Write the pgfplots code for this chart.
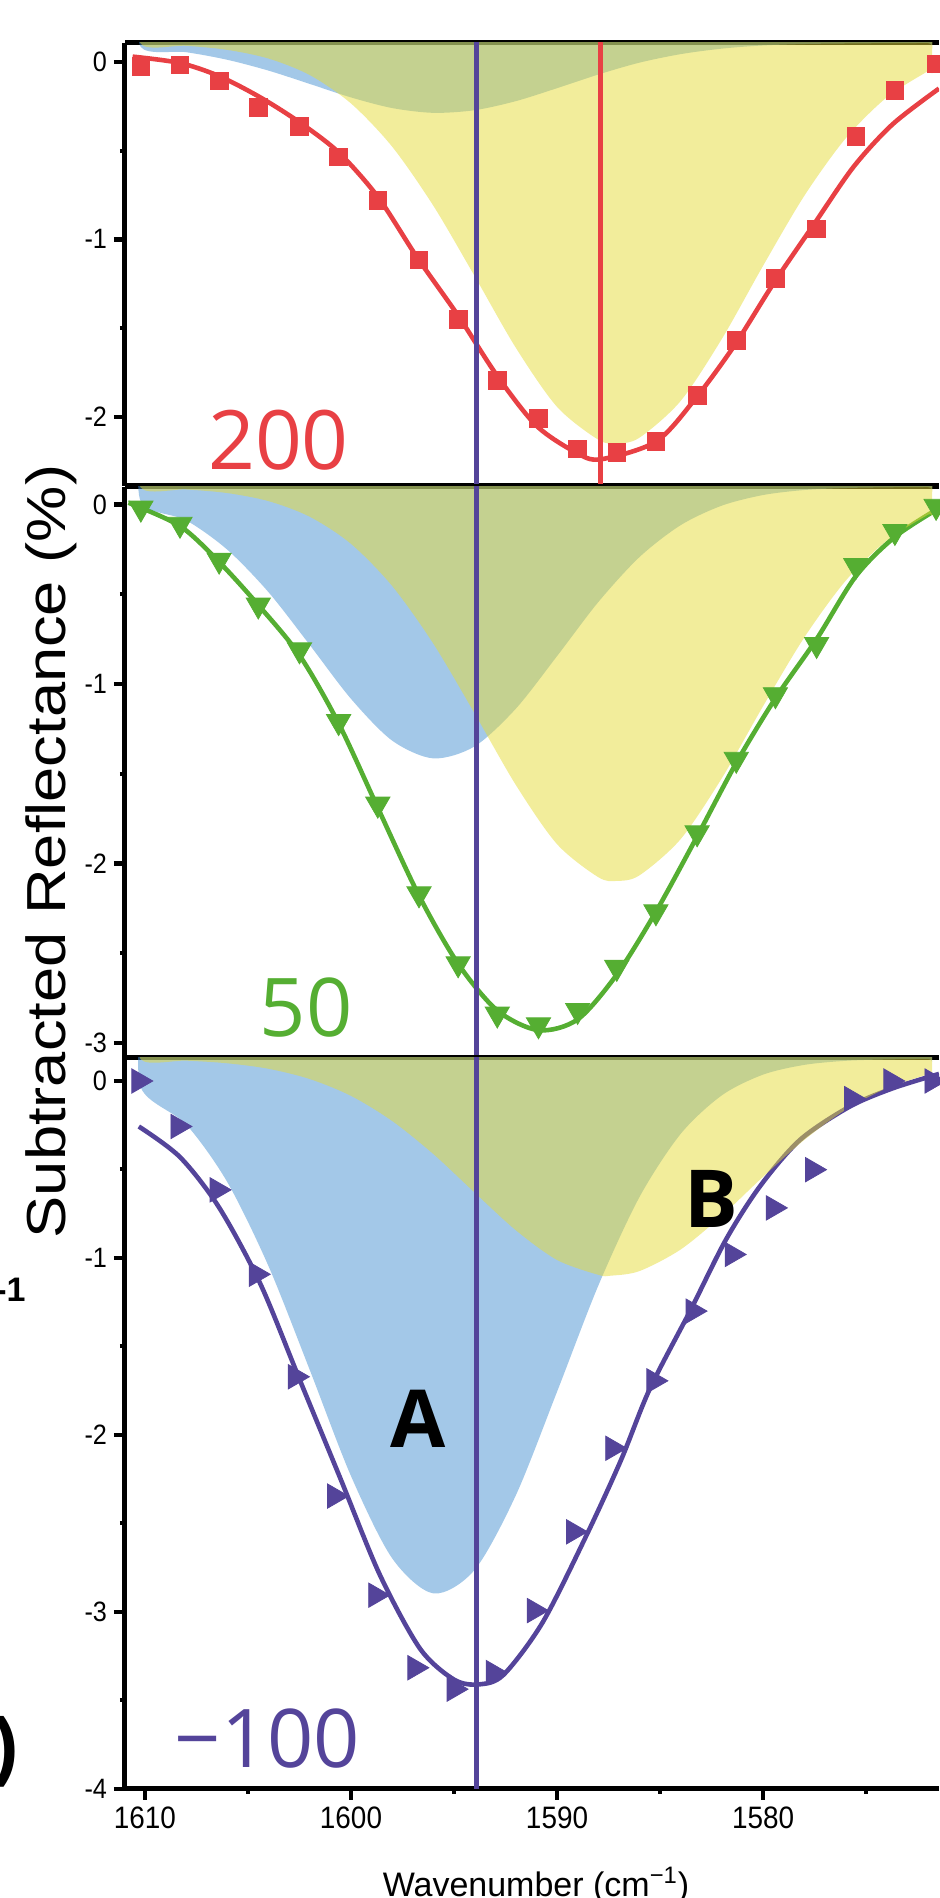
\documentclass[border=0pt]{standalone}
\usepackage{pgfplots}
\pgfplotsset{compat=1.18}
\usepackage{fontspec}
\setmainfont{Liberation Sans}
\newfontfamily\osans{Open Sans}
\definecolor{cred}{RGB}{232,64,68}
\definecolor{cgreen}{RGB}{85,174,50}
\definecolor{cpurple}{RGB}{84,68,154}
\definecolor{cblue}{RGB}{71,145,209}
\definecolor{cyellow}{RGB}{229,219,56}
\newcommand\nx[1]{\scalebox{0.9}[1]{#1}}
\pgfplotsset{
  panel/.style={
    scale only axis, width=407pt,
    xmin=1571.46, xmax=1610.97, x dir=reverse,
    axis x line*=box, axis y line*=left,
    axis line style={line width=2.5pt,-},
    tick align=outside,
    major tick length=5.5pt, minor tick length=2.5pt,
    major tick style={line width=2.2pt,black},
    minor tick style={line width=2pt,black},
    ytick pos=left,
    yticklabel style={font=\fontsize{14}{14}\selectfont},
    xticklabel style={font=\fontsize{15.5}{15.5}\selectfont},
  },
  fitline/.style={smooth, line width=2.3pt, no marks},
  bluefill/.style={fill=cblue, fill opacity=0.5, draw=none, smooth},
  yellowfill/.style={fill=cyellow, fill opacity=0.5, draw=none, smooth},
}
\begin{document}
\begin{tikzpicture}
\path[use as bounding box] (0,0) rectangle (469.5pt,949pt);
% ---------------- top panel (200) ----------------
\begin{axis}[panel, at={(62.5pt,706pt)}, anchor=south west, height=221.5pt,
  ymin=-2.39, ymax=0.107, ytick={-2,-1,0}, yticklabels={\nx{-2},\nx{-1},\nx{0}},
  minor ytick={-1.5,-0.5}, xtick=\empty]
\addplot[fitline, cred] coordinates {(1610.6,0.03) (1608.3,-0.006) (1606.4,-0.08) (1604.4,-0.2) (1602.5,-0.34) (1600.6,-0.51) (1598.7,-0.76) (1596.8,-1.10) (1594.8,-1.43) (1592.9,-1.77) (1591.0,-2.05) (1589.1,-2.20) (1587.9,-2.24) (1585.2,-2.14) (1583.3,-1.90) (1581.4,-1.60) (1579.5,-1.25) (1577.5,-0.91) (1575.6,-0.59) (1573.7,-0.35) (1571.46,-0.15)};
\addplot[only marks, mark=square*, mark size=4.4pt, cred] coordinates {(1610.2,-0.026) (1608.3,-0.017) (1606.4,-0.107) (1604.5,-0.257) (1602.5,-0.364) (1600.6,-0.536) (1598.7,-0.781) (1596.7,-1.116) (1594.8,-1.45) (1592.9,-1.795) (1590.9,-2.01) (1589.0,-2.18) (1587.1,-2.20) (1585.2,-2.14) (1583.2,-1.88) (1581.3,-1.57) (1579.4,-1.22) (1577.4,-0.94) (1575.5,-0.42) (1573.6,-0.16) (1571.6,-0.01)};
\addplot[bluefill] coordinates {(1610.2,0.4) (1610.2,0.084) (1608,0.055) (1606,0.012) (1604,-0.049) (1602,-0.124) (1600,-0.200) (1598,-0.260) (1596,-0.287) (1594,-0.272) (1592,-0.221) (1590,-0.148) (1588,-0.071) (1586,-0.004) (1584,0.044) (1582,0.075) (1580,0.093) (1578,0.101) (1576,0.104) (1574,0.106) (1572,0.107) (1571.8,0.107) (1571.8,0.4)} -- cycle;
\addplot[yellowfill] coordinates {(1610.2,0.4) (1610.2,0.102) (1608,0.091) (1606,0.068) (1604,0.019) (1602,-0.074) (1600,-0.234) (1598,-0.478) (1596,-0.811) (1594,-1.207) (1592,-1.611) (1590,-1.944) (1588,-2.129) (1587.1,-2.150) (1586,-2.118) (1584,-1.911) (1582,-1.561) (1580,-1.149) (1578,-0.755) (1576,-0.432) (1574,-0.200) (1572,-0.052) (1571.8,-0.041) (1571.8,0.4)} -- cycle;
\addplot[cred, line width=2.4pt] coordinates {(1587.9,-5) (1587.9,1)};
\addplot[cpurple, line width=2.4pt] coordinates {(1593.9,-5) (1593.9,1)};
\end{axis}
% ---------------- middle panel (50) ----------------
\begin{axis}[panel, at={(62.5pt,420pt)}, anchor=south west, height=285.5pt,
  ymin=-3.085, ymax=0.098, ytick={-3,-2,-1,0}, yticklabels={\nx{-3},\nx{-2},\nx{-1},\nx{0}},
  minor ytick={-2.5,-1.5,-0.5}, xtick=\empty]
\addplot[fitline, cgreen] coordinates {(1610.8,0.01) (1608.3,-0.12) (1606.4,-0.32) (1604.5,-0.56) (1602.5,-0.84) (1600.6,-1.22) (1598.7,-1.69) (1596.7,-2.18) (1594.8,-2.56) (1592.9,-2.82) (1590.9,-2.93) (1589.0,-2.87) (1587.1,-2.62) (1585.2,-2.27) (1583.2,-1.85) (1581.3,-1.44) (1579.4,-1.08) (1577.4,-0.75) (1575.5,-0.40) (1573.6,-0.18) (1571.46,-0.02)};
\addplot[only marks, mark=triangle*, mark size=7pt, mark options={rotate=180}, cgreen] coordinates {(1610.2,-0.02) (1608.3,-0.11) (1606.4,-0.31) (1604.5,-0.56) (1602.5,-0.81) (1600.6,-1.21) (1598.7,-1.67) (1596.7,-2.17) (1594.8,-2.56) (1592.9,-2.84) (1590.9,-2.90) (1589.0,-2.82) (1587.1,-2.58) (1585.2,-2.27) (1583.2,-1.83) (1581.3,-1.42) (1579.4,-1.06) (1577.4,-0.78) (1575.5,-0.34) (1573.6,-0.15) (1571.6,-0.01)};
\addplot[bluefill] coordinates {(1610.2,0.4) (1610.2,0.016) (1608,-0.088) (1606,-0.252) (1604,-0.489) (1602,-0.783) (1600,-1.083) (1598,-1.316) (1596,-1.415) (1594,-1.348) (1592,-1.138) (1590,-0.845) (1588,-0.544) (1586,-0.293) (1584,-0.115) (1582,-0.006) (1580,0.053) (1578,0.081) (1576,0.092) (1574,0.096) (1572,0.098) (1571.8,0.098) (1571.8,0.4)} -- cycle;
\addplot[yellowfill] coordinates {(1610.2,0.4) (1610.2,0.094) (1608,0.084) (1606,0.064) (1604,0.019) (1602,-0.068) (1600,-0.219) (1598,-0.454) (1596,-0.776) (1594,-1.164) (1592,-1.563) (1590,-1.893) (1588,-2.077) (1587.1,-2.098) (1586,-2.067) (1584,-1.865) (1582,-1.525) (1580,-1.124) (1578,-0.741) (1576,-0.426) (1574,-0.201) (1572,-0.057) (1571.8,-0.047) (1571.8,0.4)} -- cycle;
\addplot[cpurple, line width=2.4pt] coordinates {(1593.9,-5) (1593.9,1)};
\end{axis}
% ---------------- bottom panel (-100) ----------------
\begin{axis}[panel, at={(62.5pt,54.5pt)}, anchor=south west, height=365.5pt,
  ymin=-4, ymax=0.13, ytick={-4,-3,-2,-1,0}, yticklabels={\nx{-4},\nx{-3},\nx{-2},\nx{-1},\nx{0}},
  minor ytick={-3.5,-2.5,-1.5,-0.5},
  xtick={1610,1600,1590,1580}, xticklabels={\nx{1610},\nx{1600},\nx{1590},\nx{1580}},
  minor xtick={1605,1595,1585,1575}, xtick pos=bottom]
\addplot[fitline, cpurple] coordinates {(1610.3,-0.257) (1608.3,-0.43) (1606.4,-0.715) (1604.4,-1.146) (1602.5,-1.685) (1600.5,-2.25) (1598.6,-2.79) (1596.65,-3.207) (1595.0,-3.382) (1593.8,-3.409) (1592.6,-3.355) (1590.7,-3.059) (1588.6,-2.574) (1586.9,-2.143) (1585.5,-1.74) (1583.5,-1.29) (1581.8,-0.896) (1580.15,-0.595) (1578.2,-0.332) (1575.8,-0.145) (1573.7,-0.041) (1571.46,0.04)};
\addplot[only marks, mark=triangle*, mark size=7pt, mark options={rotate=-90}, cpurple] coordinates {(1610.3,0.0) (1608.4,-0.257) (1606.5,-0.615) (1604.6,-1.092) (1602.7,-1.671) (1600.8,-2.345) (1598.8,-2.905) (1596.9,-3.315) (1595.0,-3.436) (1593.1,-3.342) (1591.1,-2.992) (1589.2,-2.547) (1587.3,-2.075) (1585.3,-1.694) (1583.4,-1.30) (1581.5,-0.98) (1579.5,-0.717) (1577.6,-0.501) (1575.7,-0.100) (1573.8,0.0) (1571.8,0.0)};
\addplot[bluefill] coordinates {(1610.2,0.4) (1610.2,-0.037) (1608,-0.246) (1606,-0.572) (1604,-1.047) (1602,-1.633) (1600,-2.232) (1598,-2.697) (1596,-2.895) (1594,-2.762) (1592,-2.341) (1590,-1.756) (1588,-1.157) (1586,-0.656) (1584,-0.299) (1582,-0.081) (1580,0.036) (1578,0.091) (1576,0.114) (1574,0.122) (1572,0.125) (1571.8,0.125) (1571.8,0.4)} -- cycle;
\addplot[yellowfill] coordinates {(1610.2,0.4) (1610.2,0.122) (1608,0.115) (1606,0.100) (1604,0.069) (1602,0.011) (1600,-0.084) (1598,-0.226) (1596,-0.413) (1594,-0.630) (1592,-0.843) (1590,-1.011) (1588,-1.095) (1587.4,-1.100) (1586,-1.074) (1584,-0.952) (1582,-0.761) (1580,-0.541) (1578,-0.333) (1576,-0.163) (1574,-0.041) (1572,0.038) (1571.8,0.044) (1571.8,0.4)} -- cycle;
\addplot[cpurple, line width=2.4pt] coordinates {(1593.9,-5) (1593.9,1)};
\end{axis}
% ---------------- texts ----------------
\node[text=cred, font=\osans\fontsize{41}{41}\selectfont, inner sep=0] at (139.25pt,729pt) {200};
\node[text=cgreen, font=\osans\fontsize{40.5}{40.5}\selectfont, inner sep=0] at (153pt,445pt) {50};
\node[text=cpurple, font=\osans\fontsize{40.5}{40.5}\selectfont, inner sep=0] at (133.75pt,79.5pt) {−100};
\node[font=\osans\bfseries\fontsize{40}{40}\selectfont, inner sep=0] at (209.25pt,239.75pt) {A};
\node[font=\osans\bfseries\fontsize{40}{40}\selectfont, inner sep=0] at (355.75pt,349.5pt) {B};
\node[rotate=90, anchor=base, inner sep=0, font=\fontsize{27.5}{27.5}\selectfont] at (32.5pt,523.25pt) {\scalebox{1.15}[1]{Subtracted Reflectance (\%)}};
\node[anchor=base, inner sep=0, font=\fontsize{17}{17}\selectfont] at (268pt,1pt) {Wavenumber (cm\textsuperscript{−1})};
\node[anchor=east, inner sep=0, font=\bfseries\fontsize{17}{17}\selectfont] at (13pt,304pt) {-1};
\node[anchor=east, inner sep=0, font=\bfseries\fontsize{38}{38}\selectfont] at (9.5pt,73pt) {)};
\end{tikzpicture}
\end{document}
